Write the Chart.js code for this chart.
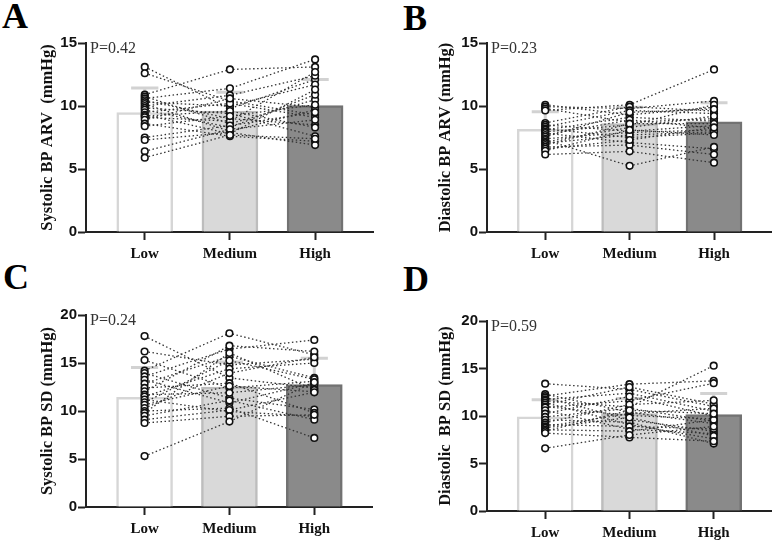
<!DOCTYPE html>
<html>
<head>
<meta charset="utf-8">
<script src="https://cdn.jsdelivr.net/npm/chart.js@4.4.0/dist/chart.umd.min.js"></script>
<style>
  body { margin: 0; background: #fff; }
  #wrap { position: relative; width: 777px; height: 542px; overflow: hidden; }
  canvas { position: absolute; }
  .lbl { position: absolute; font-family: "Liberation Serif", serif; font-weight: bold; font-size: 36px; line-height: 1; color: #000; }
</style>
</head>
<body>
<div id="wrap">
  <div class="lbl" style="left:2px;top:-2px">A</div>
  <div class="lbl" style="left:403px;top:0px">B</div>
  <div class="lbl" style="left:3px;top:259px">C</div>
  <div class="lbl" style="left:403px;top:261px">D</div>
  <canvas id="chartA" style="left:0px;top:0px" width="388" height="270"></canvas>
  <canvas id="chartB" style="left:388px;top:0px" width="389" height="270"></canvas>
  <canvas id="chartC" style="left:0px;top:270px" width="388" height="272"></canvas>
  <canvas id="chartD" style="left:388px;top:270px" width="389" height="272"></canvas>
</div>
<script>
var categories = ['Low', 'Medium', 'High'];

// panel A - systolic ARV, one entry per subject
var sysArvLow  = [13.1, 12.6, 10.9, 10.75, 10.6, 10.45, 10.3, 10.15, 10.0, 9.85, 9.7, 9.5, 9.3, 9.2, 9.1, 8.9, 8.6, 8.4, 7.5, 7.3, 6.4, 5.9];
var sysArvMed  = [9.8, 10.4, 12.9, 8.6, 11.4, 9.0, 10.0, 8.0, 10.85, 9.4, 8.3, 10.2, 7.8, 9.6, 8.8, 10.6, 7.6, 9.2, 8.45, 7.9, 8.15, 7.7];
var sysArvHigh = [12.1, 9.3, 13.1, 10.5, 13.7, 8.5, 11.7, 9.7, 12.4, 7.6, 10.9, 9.1, 11.3, 8.3, 12.7, 9.9, 7.2, 10.1, 9.5, 6.9, 8.9, 7.4];
var sysArvMean = [9.47, 9.6, 10.04];
var sysArvSd   = [1.96, 1.5, 2.06];

// panel B - diastolic ARV
var diaArvLow  = [10.1, 9.95, 9.8, 9.65, 8.65, 8.5, 8.35, 8.2, 8.1, 7.95, 7.85, 7.7, 7.55, 7.4, 7.3, 7.15, 7.05, 6.9, 6.75, 6.6, 6.45, 6.15];
var diaArvMed  = [9.3, 9.8, 8.7, 10.1, 9.95, 8.0, 9.65, 7.5, 9.1, 8.5, 7.1, 8.9, 9.5, 7.9, 5.25, 8.3, 7.7, 8.6, 6.9, 7.3, 8.1, 6.4];
var diaArvHigh = [9.9, 10.4, 9.0, 12.9, 9.6, 8.45, 9.4, 7.85, 8.8, 10.1, 6.6, 8.25, 9.75, 8.1, 6.75, 9.2, 7.95, 8.6, 6.15, 8.3, 7.7, 5.5];
var diaArvMean = [8.15, 8.6, 8.75];
var diaArvSd   = [1.4, 1.3, 1.5];

// panel C - systolic SD
var sysSdLow  = [17.8, 16.2, 15.3, 14.2, 13.95, 13.6, 13.25, 12.85, 12.4, 12.05, 11.7, 11.5, 11.2, 10.9, 10.65, 10.3, 10.0, 9.8, 9.5, 9.1, 8.75, 5.3];
var sysSdMed  = [13.45, 14.8, 12.4, 18.1, 11.35, 16.45, 10.85, 15.7, 12.9, 16.8, 11.9, 14.4, 9.95, 15.25, 12.6, 13.95, 10.3, 16.05, 11.1, 10.1, 9.45, 8.9];
var sysSdHigh = [12.4, 15.4, 13.1, 15.85, 10.15, 17.4, 12.9, 13.45, 9.8, 16.2, 12.75, 15.0, 9.45, 13.3, 12.0, 15.6, 7.2, 12.2, 9.1, 11.95, 9.6, 13.0];
var sysSdMean = [11.42, 12.5, 12.74];
var sysSdSd   = [3.12, 2.6, 2.76];

// panel D - diastolic SD
var diaSdLow  = [13.4, 12.3, 12.1, 11.95, 11.75, 11.6, 11.4, 11.2, 11.0, 10.9, 10.6, 10.25, 9.9, 9.6, 9.3, 9.1, 8.9, 8.75, 8.55, 8.4, 8.2, 6.6];
var diaSdMed  = [12.8, 10.4, 13.35, 9.6, 12.4, 10.95, 9.1, 13.05, 10.05, 11.6, 8.6, 12.05, 10.8, 9.35, 11.2, 8.9, 10.25, 9.85, 8.4, 10.6, 7.75, 8.0];
var diaSdHigh = [11.0, 9.2, 13.7, 8.4, 10.5, 15.3, 7.6, 11.25, 9.7, 13.45, 8.15, 10.0, 9.45, 7.1, 11.65, 8.65, 10.8, 7.9, 9.6, 10.25, 7.35, 8.9];
var diaSdMean = [9.9, 10.25, 10.15];
var diaSdSd   = [1.82, 1.58, 2.21];

var barFill   = ['#ffffff', '#d9d9d9', '#8a8a8a'];
var barBorder = ['#d6d6d6', '#bdbdbd', '#727272'];

// upper SD whiskers, behind the subject lines
var errBars = {
  id: 'errbars',
  beforeDatasetsDraw: function(chart, args, opts) {
    var ctx = chart.ctx, xs = chart.scales.x, ys = chart.scales.y;
    ctx.save();
    ctx.strokeStyle = opts.color;
    ctx.lineWidth = 3;
    for (var i = 0; i < opts.means.length; i++) {
      var cx = xs.getPixelForValue(i + 1);
      var y0 = ys.getPixelForValue(opts.means[i]);
      var y1 = ys.getPixelForValue(opts.means[i] + opts.sds[i]);
      var hw = (xs.getPixelForValue(i + 1.16) - cx);
      ctx.beginPath();
      ctx.moveTo(cx, y0); ctx.lineTo(cx, y1);
      ctx.moveTo(cx - hw, y1); ctx.lineTo(cx + hw, y1);
      ctx.stroke();
    }
    ctx.restore();
  }
};

var pText = {
  id: 'ptext',
  afterDraw: function(chart, args, opts) {
    var ctx = chart.ctx, a = chart.chartArea;
    ctx.save();
    ctx.fillStyle = '#333';
    ctx.font = '16px "Liberation Serif", serif';
    ctx.textBaseline = 'alphabetic';
    ctx.fillText(opts.text, a.left + 4, a.top + 10);
    ctx.restore();
  }
};

function makePanel(id, p) {
  var datasets = [];
  // points on top
  var cols = [p.low, p.med, p.high];
  for (var c = 0; c < 3; c++) {
    datasets.push({
      type: 'scatter',
      data: cols[c].map(function(v) { return {x: c + 1, y: v}; }),
      pointRadius: 3.3,
      pointBackgroundColor: '#fff',
      pointBorderColor: '#111',
      pointBorderWidth: 1.6,
      order: 0
    });
  }
  // dotted line per subject
  for (var s = 0; s < p.low.length; s++) {
    datasets.push({
      type: 'line',
      data: [{x: 1, y: p.low[s]}, {x: 2, y: p.med[s]}, {x: 3, y: p.high[s]}],
      borderColor: '#333',
      borderWidth: 1.3,
      borderDash: [1.5, 2.5],
      pointRadius: 0,
      fill: false,
      order: 1
    });
  }
  datasets.push({
    type: 'bar',
    data: p.mean.map(function(v, i) { return {x: i + 1, y: v}; }),
    backgroundColor: barFill,
    borderColor: barBorder,
    borderWidth: 2.5,
    barThickness: 56,
    order: 2
  });

  var W = p.canvasW, H = p.canvasH;
  return new Chart(document.getElementById(id), {
    type: 'scatter',
    data: { datasets: datasets },
    options: {
      responsive: false,
      animation: false,
      layout: { padding: { top: p.top, right: W - p.right, left: 0, bottom: 0 } },
      plugins: {
        legend: { display: false },
        tooltip: { enabled: false },
        errbars: { means: p.mean, sds: p.sd, color: '#d2d2d2' },
        ptext: { text: p.ptext }
      },
      scales: {
        x: {
          type: 'linear',
          offset: false,
          bounds: 'data',
          min: 0.31, max: 3.68,
          afterBuildTicks: function(axis) { axis.ticks = [{value: 1}, {value: 2}, {value: 3}]; },
          afterFit: function(axis) { axis.height = H - p.bottom; },
          ticks: {
            callback: function(v) { return categories[v - 1]; },
            color: '#111',
            font: { family: '"Liberation Serif", serif', weight: 'bold', size: 15 },
            padding: 5,
            maxRotation: 0
          },
          grid: { offset: false, drawOnChartArea: false, drawTicks: true, tickLength: 8, tickWidth: 2, color: '#222' },
          border: { display: true, color: '#222', width: 2 }
        },
        y: {
          min: 0, max: p.ymax,
          ticks: {
            stepSize: 5,
            color: '#111',
            font: { family: '"Liberation Sans", Arial, sans-serif', weight: 'bold', size: 15 },
            padding: 1
          },
          afterFit: function(axis) { axis.width = p.left; },
          title: {
            display: true,
            text: p.title,
            color: '#111',
            font: { family: '"Liberation Serif", serif', weight: 'bold', size: 16.5 },
            padding: { top: p.titlePad, bottom: 0 }
          },
          grid: { drawOnChartArea: false, drawTicks: true, tickLength: 8, tickWidth: 2, color: '#222' },
          border: { display: true, color: '#222', width: 2 }
        }
      }
    },
    plugins: [errBars, pText]
  });
}

makePanel('chartA', {
  low: sysArvLow, med: sysArvMed, high: sysArvHigh, mean: sysArvMean, sd: sysArvSd,
  ymax: 15, title: 'Systolic BP ARV  (mmHg)', ptext: 'P=0.42',
  canvasW: 388, canvasH: 270, left: 86, right: 373, top: 43, bottom: 232, titlePad: 38
});
makePanel('chartB', {
  low: diaArvLow, med: diaArvMed, high: diaArvHigh, mean: diaArvMean, sd: diaArvSd,
  ymax: 15, title: 'Diastolic BP ARV (mmHg)', ptext: 'P=0.23',
  canvasW: 389, canvasH: 270, left: 99, right: 385, top: 43, bottom: 232, titlePad: 48
});
makePanel('chartC', {
  low: sysSdLow, med: sysSdMed, high: sysSdHigh, mean: sysSdMean, sd: sysSdSd,
  ymax: 20, title: 'Systolic BP SD (mmHg)', ptext: 'P=0.24',
  canvasW: 388, canvasH: 272, left: 86, right: 372, top: 45, bottom: 237, titlePad: 38
});
makePanel('chartD', {
  low: diaSdLow, med: diaSdMed, high: diaSdHigh, mean: diaSdMean, sd: diaSdSd,
  ymax: 20, title: 'Diastolic  BP SD (mmHg)', ptext: 'P=0.59',
  canvasW: 389, canvasH: 272, left: 99, right: 383, top: 51, bottom: 241, titlePad: 48
});
</script>
</body>
</html>
